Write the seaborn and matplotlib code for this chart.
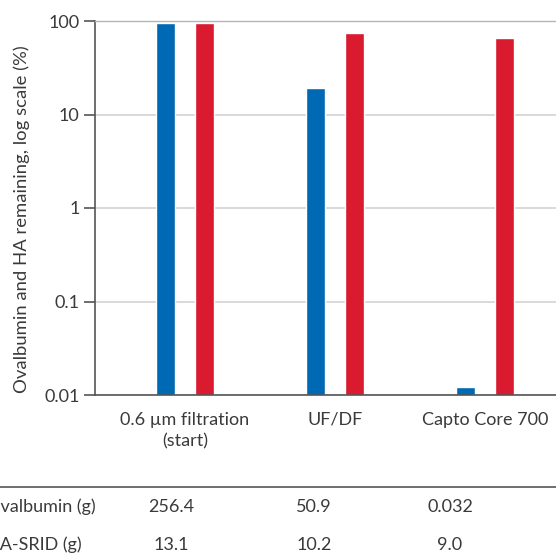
import matplotlib
matplotlib.use("Agg")
import matplotlib.pyplot as plt
import seaborn as sns
import pandas as pd
from matplotlib.lines import Line2D

categories = ["0.6 µm filtration\n(start)", "UF/DF", "Capto Core 700"]
ovalbumin_pct = [96, 19.2, 0.0122]
ha_pct = [96, 74.5, 66]
series_names = ["Ovalbumin", "HA"]
ytick_vals = [0.01, 0.1, 1, 10, 100]
ytick_labels = ["0.01", "0.1", "1", "10", "100"]
row_labels = ["Ovalbumin (g)", "HA-SRID (g)"]
ovalbumin_g = ["256.4", "50.9", "0.032"]
ha_srid_g = ["13.1", "10.2", "9.0"]

sns.set_style("white")
plt.rcParams["font.family"] = ["Lato", "DejaVu Sans"]
TXT = "#3a3a3a"

df = pd.DataFrame({
    "step": categories * 2,
    "series": [series_names[0]] * 3 + [series_names[1]] * 3,
    "value": ovalbumin_pct + ha_pct,
})

fig = plt.figure(figsize=(5.56, 5.6), dpi=100)
ax = fig.add_axes([95 / 556, 1 - 395 / 560, 1 - 95 / 556, (395 - 21) / 560])

sns.barplot(data=df, x="step", y="value", hue="series", order=categories,
            hue_order=series_names, palette=["#0069b4", "#d91a2f"],
            width=0.53, gap=0.52, ax=ax, legend=False, saturation=1)

ax.set_yscale("log")
ax.set_ylim(0.01, 100)
ax.set_xlim(-0.6, 2.473)
ax.set_yticks(ytick_vals)
ax.set_yticklabels(ytick_labels)
ax.minorticks_off()
ax.yaxis.grid(True, color="#d9d9d9", linewidth=1.4)
ax.set_axisbelow(True)

ax.spines["right"].set_visible(False)
ax.spines["top"].set_color("#b5b5b5")
ax.spines["top"].set_linewidth(1.0)
ax.spines["left"].set_color("#555555")
ax.spines["bottom"].set_color("#555555")
ax.spines["left"].set_linewidth(1.2)
ax.spines["bottom"].set_linewidth(1.2)

ax.tick_params(axis="y", length=8, width=1.2, color="#555555", pad=3,
               labelsize=13, labelcolor=TXT, left=True)
ax.tick_params(axis="x", length=0, pad=12, labelsize=13, labelcolor=TXT)
for lbl in ax.get_xticklabels():
    lbl.set_linespacing(1.45)
    lbl.set_verticalalignment("top")

ax.set_xlabel("")
ax.set_ylabel("Ovalbumin and HA remaining, log scale (%)", fontsize=13.3, color=TXT)
ax.yaxis.set_label_coords(-0.14, 0.47)

# table below the chart
fig.add_artist(Line2D([0, 1], [1 - 487 / 560] * 2, color="#555555", linewidth=1.2,
                      transform=fig.transFigure))
col_x = [171, 314, 450]
row_y = [507, 545]
for ry, lab, vals in zip(row_y, row_labels, [ovalbumin_g, ha_srid_g]):
    fig.text(-14 / 556, 1 - ry / 560, lab, ha="left", va="center", fontsize=13, color=TXT)
    for cx, v in zip(col_x, vals):
        fig.text(cx / 556, 1 - ry / 560, v, ha="center", va="center", fontsize=13, color=TXT)

fig.savefig("out.png", dpi=100)
